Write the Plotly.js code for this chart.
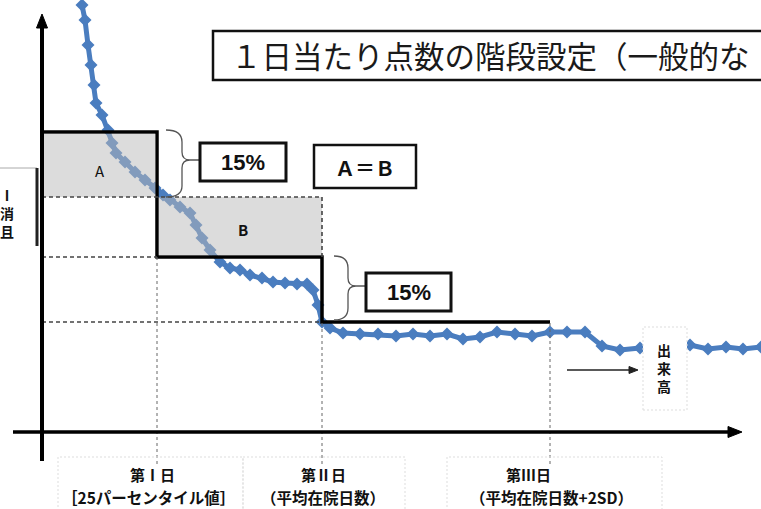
<!DOCTYPE html>
<html>
<head>
<meta charset="utf-8">
<script src="https://cdn.plot.ly/plotly-3.0.1.min.js"></script>
<style>html,body{margin:0;padding:0;background:#fff;}#chart{width:761px;height:509px;}</style>
</head>
<body>
<div id="chart"></div>
<script>
// ---- data (chart units: days from admission, points per day) ----
const curveDays   = [40,43,46,49,52,54,60,66,70,74,83,93,103,113,121,128,138,148,154,160,168,178,188,198,208,220,231,243,255,265,271,276,280,288,301,318,336,354,371,388,405,421,438,455,473,490,508,525,543,560,578,598];
const curveScores = [427,412,387,367,347,329,317,302,289,279,270,260,252,244,237,232,225,219,207,194,182,170,164,162,157,154,150,149,148,148,142,127,110,104,99,98,98,96,98,96,98,93,95,100,98,96,100,100,100,86,82,84];
const tailDays    = [648,666,684,701,719];
const tailScores  = [87,83,85,83,85];
const stepDays    = [0,115,115,280,280,508];
const stepScores  = [300,300,175,175,110,110];
const periodDays  = [115,280,508];          // 第Ⅰ日, 第Ⅱ日, 第Ⅲ日
const levelScores = [300,175,110];          // 入院期間Ⅰ, Ⅱ, Ⅲ
const equalLevel  = 235;                    // A = B line
const periodLabels = ["<b>第Ⅰ日</b>","<b>第Ⅱ日</b>","<b>第Ⅲ日</b>"];
const periodNotes  = ["<b>［25パーセンタイル値］</b>","<b>（平均在院日数）</b>","<b>（平均在院日数+2SD）</b>"];

// pixel helpers for decorations
const X = px => px - 42;
const Y = py => 432 - py;

const blue = '#4a7dbf';
const traces = [
  {x: curveDays, y: curveScores, type:'scatter', mode:'lines+markers',
   line:{color:blue, width:5}, marker:{symbol:'diamond', size:10, color:blue}, hoverinfo:'skip'},
  {x: tailDays, y: tailScores, type:'scatter', mode:'lines+markers',
   line:{color:blue, width:5}, marker:{symbol:'diamond', size:10, color:blue}, hoverinfo:'skip'},
  {x: stepDays, y: stepScores, type:'scatter', mode:'lines',
   line:{color:'#000', width:3.5}, hoverinfo:'skip'}
];

const dashDark = {color:'#444', width:1.6, dash:'4px,3px'};
const dashLight = {color:'#666', width:1, dash:'3px,3px'};
const shapes = [];
// gray areas A and B (semi-transparent, over the curve)
shapes.push({type:'rect', layer:'above', xref:'x', yref:'y', x0:2, x1:periodDays[0]-1.5, y0:equalLevel, y1:levelScores[0]-1.8,
  fillcolor:'rgba(185,185,185,0.5)', line:{width:0}});
shapes.push({type:'rect', layer:'above', xref:'x', yref:'y', x0:periodDays[0]+1.8, x1:periodDays[1], y0:levelScores[1]+1.8, y1:equalLevel,
  fillcolor:'rgba(185,185,185,0.5)', line:{width:0}});
// dashed level lines
shapes.push({type:'line', layer:'above', x0:0, x1:periodDays[1], y0:equalLevel, y1:equalLevel, line:dashDark});
shapes.push({type:'line', layer:'above', x0:0, x1:periodDays[0], y0:levelScores[1], y1:levelScores[1], line:dashDark});
shapes.push({type:'line', layer:'above', x0:0, x1:periodDays[1], y0:levelScores[2], y1:levelScores[2], line:dashDark});
shapes.push({type:'line', layer:'above', x0:periodDays[1], x1:periodDays[1], y0:levelScores[1], y1:equalLevel, line:dashDark});
// vertical period lines
shapes.push({type:'line', layer:'above', x0:periodDays[0], x1:periodDays[0], y0:Y(464), y1:levelScores[1], line:dashLight});
shapes.push({type:'line', layer:'above', x0:periodDays[1], x1:periodDays[1], y0:Y(464), y1:levelScores[2], line:dashLight});
shapes.push({type:'line', layer:'above', x0:periodDays[2], x1:periodDays[2], y0:Y(464), y1:levelScores[2], line:dashLight});
// axes
shapes.push({type:'line', layer:'above', x0:X(42), x1:X(42), y0:Y(461), y1:Y(24), line:{color:'#000', width:4}});
shapes.push({type:'path', layer:'above', path:`M ${X(42)} ${Y(14)} L ${X(36.5)} ${Y(28)} L ${X(47.5)} ${Y(28)} Z`, fillcolor:'#000', line:{color:'#000', width:1}});
shapes.push({type:'line', layer:'above', x0:X(13), x1:X(730), y0:0, y1:0, line:{color:'#000', width:3.5}});
shapes.push({type:'path', layer:'above', path:`M ${X(742)} ${Y(432)} L ${X(728)} ${Y(426.5)} L ${X(728)} ${Y(437.5)} Z`, fillcolor:'#000', line:{color:'#000', width:1}});
// small arrow to 出来高
shapes.push({type:'line', layer:'above', x0:X(567), x1:X(630), y0:Y(370), y1:Y(370), line:{color:'#222', width:1.6}});
shapes.push({type:'path', layer:'above', path:`M ${X(638)} ${Y(370)} L ${X(629)} ${Y(366.5)} L ${X(629)} ${Y(373.5)} Z`, fillcolor:'#222', line:{color:'#222', width:1}});
// braces
shapes.push({type:'path', layer:'above', line:{color:'#555', width:1.3},
  path:`M ${X(166)} ${Y(130)} Q ${X(182)} ${Y(130)} ${X(182)} ${Y(142)} L ${X(182)} ${Y(152)} Q ${X(182)} ${Y(160)} ${X(190)} ${Y(160)} L ${X(200)} ${Y(160)} M ${X(190)} ${Y(160)} Q ${X(182)} ${Y(160)} ${X(182)} ${Y(168)} L ${X(182)} ${Y(186)} Q ${X(182)} ${Y(197)} ${X(166)} ${Y(197)}`});
shapes.push({type:'path', layer:'above', line:{color:'#555', width:1.3},
  path:`M ${X(334)} ${Y(256)} Q ${X(348)} ${Y(256)} ${X(348)} ${Y(268)} L ${X(348)} ${Y(278)} Q ${X(348)} ${Y(286)} ${X(356)} ${Y(286)} L ${X(365)} ${Y(286)} M ${X(356)} ${Y(286)} Q ${X(348)} ${Y(286)} ${X(348)} ${Y(294)} L ${X(348)} ${Y(308)} Q ${X(348)} ${Y(320)} ${X(334)} ${Y(320)}`});
// boxes
shapes.push({type:'rect', layer:'above', x0:X(213), x1:X(800), y0:Y(80), y1:Y(31), line:{color:'#111', width:2.5}, fillcolor:'rgba(0,0,0,0)'});
shapes.push({type:'rect', layer:'above', x0:X(200), x1:X(286), y0:Y(181), y1:Y(143), line:{color:'#111', width:3}, fillcolor:'#fff'});
shapes.push({type:'rect', layer:'above', x0:X(314), x1:X(416), y0:Y(188), y1:Y(145), line:{color:'#111', width:2.5}, fillcolor:'#fff'});
shapes.push({type:'rect', layer:'above', x0:X(366), x1:X(451), y0:Y(311), y1:Y(273), line:{color:'#111', width:3}, fillcolor:'#fff'});
// faint label boxes
const faint = {color:'#dddddd', width:1, dash:'2px,2px'};
shapes.push({type:'rect', layer:'above', x0:X(643), x1:X(687), y0:Y(410), y1:Y(327), line:faint, fillcolor:'#fff'});
shapes.push({type:'rect', layer:'above', x0:X(58), x1:X(243), y0:Y(515), y1:Y(457), line:faint});
shapes.push({type:'rect', layer:'above', x0:X(243), x1:X(405), y0:Y(515), y1:Y(457), line:faint});
shapes.push({type:'rect', layer:'above', x0:X(447), x1:X(662), y0:Y(515), y1:Y(457), line:faint});
// left partial label box
shapes.push({type:'line', layer:'above', x0:X(-5), x1:X(37), y0:Y(168), y1:Y(168), line:{color:'#aaa', width:1}});
shapes.push({type:'line', layer:'above', x0:X(37), x1:X(37), y0:Y(168), y1:Y(246), line:{color:'#222', width:3}});

const jp = '"Noto Sans CJK JP", "Noto Sans", sans-serif';
const lib = '"Liberation Sans", Arial, sans-serif';
const ann = (x, y, text, size, opts={}) => Object.assign({x, y, xref:'x', yref:'y', text, showarrow:false,
  font:{family:jp, size, color:'#111'}, xanchor:'center', yanchor:'middle'}, opts);
const annotations = [
  ann(X(229), Y(55), '１日当たり点数の階段設定（一般的な', 30.5, {xanchor:'left', font:{family:jp, size:30.5, color:'#1a1a1a'}}),
  ann(X(243), Y(162), '<b>15%</b>', 22, {font:{family:lib, size:22, color:'#111'}}),
  ann(X(365), Y(167), '<b>Ａ＝Ｂ</b>', 20),
  ann(X(408.5), Y(292), '<b>15%</b>', 22, {font:{family:lib, size:22, color:'#111'}}),
  ann(X(100), Y(170), 'A', 15),
  ann(X(243), Y(229), '<b>B</b>', 15),
  ann(X(664), Y(368), '<b>出<br>来<br>高</b>', 14),
  ann(X(7), Y(213), '<b>Ⅰ<br>消<br>且</b>', 14)
];
const labelCenters = [152, 323, 528];
const noteCenters  = [148, 323, 551];
for (let i = 0; i < periodLabels.length; i++) {
  annotations.push(ann(X(labelCenters[i]), Y(474), periodLabels[i], 15));
  annotations.push(ann(X(noteCenters[i]), Y(497), periodNotes[i], 15.5));
}

const layout = {
  width:761, height:509, margin:{l:0, r:0, t:0, b:0},
  paper_bgcolor:'#fff', plot_bgcolor:'#fff', showlegend:false,
  xaxis:{range:[-42, 719], visible:false, fixedrange:true},
  yaxis:{range:[-77, 432], visible:false, fixedrange:true},
  shapes, annotations
};
Plotly.newPlot('chart', traces, layout, {staticPlot:true, displayModeBar:false});
</script>
</body>
</html>
